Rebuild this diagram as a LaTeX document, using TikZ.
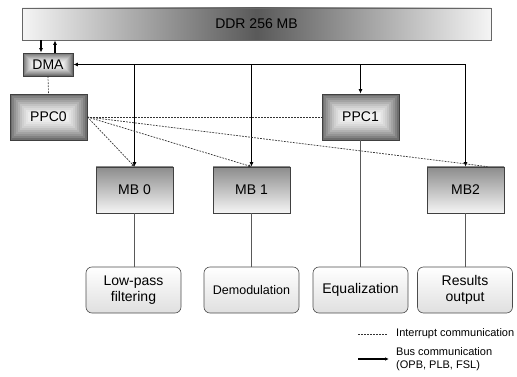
\documentclass[tikz,border=0pt]{standalone}
\usepackage{fontspec}
\setmainfont{Liberation Sans}
\usetikzlibrary{arrows.meta}
\begin{document}
\begin{tikzpicture}[x=1pt,y=-1pt,
  box/.style={draw=black!75,line width=0.8pt,minimum width=77pt,minimum height=46pt,inner sep=0pt,font=\fontsize{14}{16}\selectfont},
  bevel/.style={path picture={
    \foreach \i in {0,...,11}{
      \pgfmathtruncatemacro\c{5+52*(1-\i/11)^1.6}
      \fill[black!\c] ([shift={(\i*#1,-\i*#1)}]path picture bounding box.north west)
        rectangle ([shift={(-\i*#1,\i*#1)}]path picture bounding box.south east);
    }}},
  ppcbox/.style={box,bevel=1.95pt},
  mbbox/.style={box,top color=gray!90,bottom color=gray!8},
  taskbox/.style={draw=black!70,line width=0.6pt,rounded corners=6pt,minimum width=95pt,minimum height=46pt,inner sep=0pt,top color=white,bottom color=gray!25,align=center,font=\fontsize{14}{16}\selectfont},
  bus/.style={line width=1.8pt,black},
  tip/.style={-{Latex[length=4.5pt,width=4pt]}},
  intr/.style={line width=0.7pt,black!80,dash pattern=on 1.8pt off 1.2pt},
  thin/.style={line width=0.7pt,black!65},
  legtext/.style={font=\fontsize{11}{12.5}\selectfont,anchor=west,inner sep=0pt,align=left}
]
\useasboundingbox (0,0) rectangle (517,377);

\node[draw=black!60,line width=0.8pt,minimum width=469pt,minimum height=32pt,inner sep=0pt,
  left color=black!4,right color=black!4,middle color=black!65,font=\fontsize{14}{16}\selectfont]
  (ddr) at (256.5,24) {DDR 256 MB};
\node[box,bevel=0.98pt,minimum width=50pt,minimum height=23pt] (dma) at (48,64.5) {DMA};
\node[ppcbox] (ppc0) at (48.5,117) {PPC0};
\node[ppcbox] (ppc1) at (360.5,117) {PPC1};
\node[mbbox] (mb0) at (134.5,190) {MB 0};
\node[mbbox] (mb1) at (251.5,190) {MB 1};
\node[mbbox] (mb2) at (465.5,190) {MB2};

\node[taskbox] (lp) at (133.5,290) {Low-pass\\filtering};
\node[taskbox,font=\fontsize{12.5}{14}\selectfont] (dem) at (251.5,290) {Demodulation};
\node[taskbox] (eq) at (360.5,290) {Equalization};
\node[taskbox] (res) at (465,290) {Results\\output};

% DDR <-> DMA
\draw[bus,line width=1.5pt,tip] ([xshift=-7pt]dma.north |- ddr.south) -- ([xshift=-7pt]dma.north);
\draw[bus,line width=1.5pt,tip] ([xshift=7pt]dma.north) -- ([xshift=7pt]dma.north |- ddr.south);

% bus
\draw[bus,{Latex[length=4.5pt,width=4pt]}-{Latex[length=4.5pt,width=4pt]}] (dma.east) -- (mb2.north |- dma.east) -- (mb2.north);
\draw[bus,tip] (mb0.north |- dma.east) -- (mb0.north);
\draw[bus,tip] (mb1.north |- dma.east) -- (mb1.north);
\draw[bus,tip] (ppc1.north |- dma.east) -- (ppc1.north);

% interrupts
\draw[intr] (dma.south) -- (ppc0.north);
\draw[intr] (ppc0.east) -- (ppc1.west);
\draw[intr,-{Latex[length=3pt,width=3pt]}] (ppc0.east) -- (mb0.north);
\draw[intr,-{Latex[length=3pt,width=3pt]}] (ppc0.east) -- (mb1.north);
\draw[intr] (ppc0.east) -- ([xshift=-17pt]mb2.north east);

% task links
\draw[thin] (mb0.south) -- (lp.north -| mb0.south);
\draw[thin] (mb1.south) -- (dem.north -| mb1.south);
\draw[thin] (ppc1.south) -- (eq.north -| ppc1.south);
\draw[thin] (mb2.south) -- (res.north -| mb2.south);

% legend
\coordinate (l1a) at (358,334);
\coordinate (l1b) at (387,334);
\coordinate (l2a) at (358,359);
\coordinate (l2b) at (389,359);
\draw[intr,line width=0.6pt] (l1a) -- (l1b);
\draw[bus,line width=1.3pt,-{Latex[length=4pt,width=3.5pt]}] (l2a) -- (l2b);
\node[legtext] (lt1) at (396,334) {Interrupt communication};
\node[legtext] (lt2) at (396,359) {Bus communication\\(OPB, PLB, FSL)};
\end{tikzpicture}
\end{document}
